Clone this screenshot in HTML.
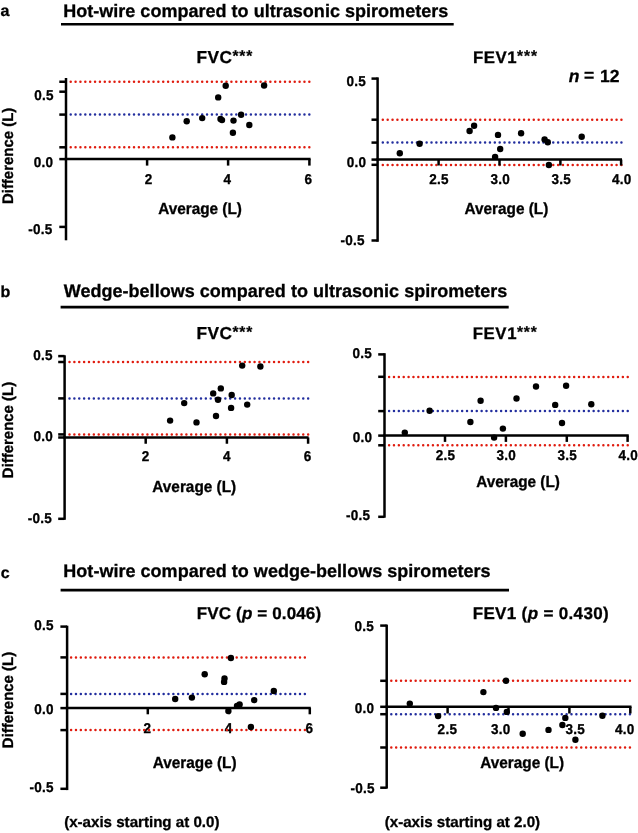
<!DOCTYPE html>
<html><head><meta charset="utf-8"><style>
html,body{margin:0;padding:0;background:#fff;}
svg{display:block;will-change:transform;}
text{font-family:"Liberation Sans", sans-serif;font-weight:bold;fill:#000;text-rendering:geometricPrecision;stroke:#000;stroke-width:0.3px;}
</style></head><body>
<svg width="638" height="833" viewBox="0 0 638 833">
<rect width="638" height="833" fill="#fff"/>
<text x="0.46" y="15.80" font-size="16" >a</text>
<text x="63.14" y="16.60" font-size="18"  letter-spacing="0.025">Hot-wire compared to ultrasonic spirometers</text>
<line x1="61" y1="24.3" x2="453.7" y2="24.3" stroke="#000" stroke-width="2.6" stroke-linecap="butt"/>
<text x="0.38" y="297.20" font-size="16" >b</text>
<text x="63.80" y="296.70" font-size="18"  letter-spacing="0.017">Wedge-bellows compared to ultrasonic spirometers</text>
<line x1="60.6" y1="307.2" x2="508.7" y2="307.2" stroke="#000" stroke-width="2.7" stroke-linecap="butt"/>
<text x="0.86" y="577.60" font-size="16" >c</text>
<text x="63.34" y="577.40" font-size="18"  letter-spacing="0.025">Hot-wire compared to wedge-bellows spirometers</text>
<line x1="60.6" y1="590.1" x2="509" y2="590.1" stroke="#000" stroke-width="2.6" stroke-linecap="butt"/>
<path d="M70.70 81.75h0M75.57 81.75h0M80.44 81.75h0M85.31 81.75h0M90.18 81.75h0M95.05 81.75h0M99.92 81.75h0M104.79 81.75h0M109.66 81.75h0M114.53 81.75h0M119.40 81.75h0M124.27 81.75h0M129.14 81.75h0M134.01 81.75h0M138.88 81.75h0M143.75 81.75h0M148.62 81.75h0M153.49 81.75h0M158.36 81.75h0M163.23 81.75h0M168.10 81.75h0M172.97 81.75h0M177.84 81.75h0M182.71 81.75h0M187.58 81.75h0M192.45 81.75h0M197.32 81.75h0M202.19 81.75h0M207.06 81.75h0M211.93 81.75h0M216.80 81.75h0M221.67 81.75h0M226.54 81.75h0M231.41 81.75h0M236.28 81.75h0M241.15 81.75h0M246.02 81.75h0M250.89 81.75h0M255.76 81.75h0M260.63 81.75h0M265.50 81.75h0M270.37 81.75h0M275.24 81.75h0M280.11 81.75h0M284.98 81.75h0M289.85 81.75h0M294.72 81.75h0M299.59 81.75h0M304.46 81.75h0M309.33 81.75h0" stroke="#e01b0e" stroke-width="2.5" stroke-linecap="round" fill="none"/>
<path d="M70.70 114.6h0M75.57 114.6h0M80.44 114.6h0M85.31 114.6h0M90.18 114.6h0M95.05 114.6h0M99.92 114.6h0M104.79 114.6h0M109.66 114.6h0M114.53 114.6h0M119.40 114.6h0M124.27 114.6h0M129.14 114.6h0M134.01 114.6h0M138.88 114.6h0M143.75 114.6h0M148.62 114.6h0M153.49 114.6h0M158.36 114.6h0M163.23 114.6h0M168.10 114.6h0M172.97 114.6h0M177.84 114.6h0M182.71 114.6h0M187.58 114.6h0M192.45 114.6h0M197.32 114.6h0M202.19 114.6h0M207.06 114.6h0M211.93 114.6h0M216.80 114.6h0M221.67 114.6h0M226.54 114.6h0M231.41 114.6h0M236.28 114.6h0M241.15 114.6h0M246.02 114.6h0M250.89 114.6h0M255.76 114.6h0M260.63 114.6h0M265.50 114.6h0M270.37 114.6h0M275.24 114.6h0M280.11 114.6h0M284.98 114.6h0M289.85 114.6h0M294.72 114.6h0M299.59 114.6h0M304.46 114.6h0M309.33 114.6h0" stroke="#222e9e" stroke-width="2.5" stroke-linecap="round" fill="none"/>
<path d="M70.70 147.3h0M75.57 147.3h0M80.44 147.3h0M85.31 147.3h0M90.18 147.3h0M95.05 147.3h0M99.92 147.3h0M104.79 147.3h0M109.66 147.3h0M114.53 147.3h0M119.40 147.3h0M124.27 147.3h0M129.14 147.3h0M134.01 147.3h0M138.88 147.3h0M143.75 147.3h0M148.62 147.3h0M153.49 147.3h0M158.36 147.3h0M163.23 147.3h0M168.10 147.3h0M172.97 147.3h0M177.84 147.3h0M182.71 147.3h0M187.58 147.3h0M192.45 147.3h0M197.32 147.3h0M202.19 147.3h0M207.06 147.3h0M211.93 147.3h0M216.80 147.3h0M221.67 147.3h0M226.54 147.3h0M231.41 147.3h0M236.28 147.3h0M241.15 147.3h0M246.02 147.3h0M250.89 147.3h0M255.76 147.3h0M260.63 147.3h0M265.50 147.3h0M270.37 147.3h0M275.24 147.3h0M280.11 147.3h0M284.98 147.3h0M289.85 147.3h0M294.72 147.3h0M299.59 147.3h0M304.46 147.3h0M309.33 147.3h0" stroke="#e01b0e" stroke-width="2.5" stroke-linecap="round" fill="none"/>
<line x1="66" y1="78" x2="66" y2="240.3" stroke="#000" stroke-width="2.5" stroke-linecap="butt"/>
<line x1="64.75" y1="159.1" x2="310.6" y2="159.1" stroke="#000" stroke-width="2.5" stroke-linecap="butt"/>
<line x1="59.3" y1="81.75" x2="66" y2="81.75" stroke="#000" stroke-width="2.5" stroke-linecap="butt"/>
<line x1="59.3" y1="91.7" x2="66" y2="91.7" stroke="#000" stroke-width="2.5" stroke-linecap="butt"/>
<line x1="59.3" y1="114.6" x2="66" y2="114.6" stroke="#000" stroke-width="2.5" stroke-linecap="butt"/>
<line x1="59.3" y1="147.3" x2="66" y2="147.3" stroke="#000" stroke-width="2.5" stroke-linecap="butt"/>
<line x1="59.3" y1="159.1" x2="66" y2="159.1" stroke="#000" stroke-width="2.5" stroke-linecap="butt"/>
<line x1="59.3" y1="226.9" x2="66" y2="226.9" stroke="#000" stroke-width="2.5" stroke-linecap="butt"/>
<line x1="147.1" y1="159.1" x2="147.1" y2="165.6" stroke="#000" stroke-width="2.5" stroke-linecap="butt"/>
<line x1="228.1" y1="159.1" x2="228.1" y2="165.6" stroke="#000" stroke-width="2.5" stroke-linecap="butt"/>
<line x1="309.4" y1="159.1" x2="309.4" y2="165.6" stroke="#000" stroke-width="2.5" stroke-linecap="butt"/>
<circle cx="172.40" cy="137.40" r="3.2"/>
<circle cx="186.70" cy="121.30" r="3.2"/>
<circle cx="202.20" cy="118.10" r="3.2"/>
<circle cx="218.20" cy="97.40" r="3.2"/>
<circle cx="225.70" cy="85.70" r="3.2"/>
<circle cx="220.50" cy="119.00" r="3.2"/>
<circle cx="222.00" cy="120.10" r="3.2"/>
<circle cx="233.50" cy="120.60" r="3.2"/>
<circle cx="232.90" cy="132.70" r="3.2"/>
<circle cx="241.10" cy="114.70" r="3.2"/>
<circle cx="249.30" cy="125.00" r="3.2"/>
<circle cx="264.10" cy="85.50" r="3.2"/>
<text transform="translate(144.79,183.60) scale(1,1.05)" font-size="13.5" >2</text>
<text transform="translate(223.45,183.60) scale(1,1.05)" font-size="13.5" >4</text>
<text transform="translate(304.62,183.60) scale(1,1.05)" font-size="13.5" >6</text>
<text transform="translate(34.16,100.00) scale(1,1.05)" font-size="13.5"  letter-spacing="0.250">0.5</text>
<text transform="translate(33.86,166.90) scale(1,1.05)" font-size="13.5"  letter-spacing="0.250">0.0</text>
<text transform="translate(28.21,233.75) scale(1,1.05)" font-size="13.5"  letter-spacing="0.250">-0.5</text>
<path d="M382.80 119.7h0M387.67 119.7h0M392.54 119.7h0M397.41 119.7h0M402.28 119.7h0M407.15 119.7h0M412.02 119.7h0M416.89 119.7h0M421.76 119.7h0M426.63 119.7h0M431.50 119.7h0M436.37 119.7h0M441.24 119.7h0M446.11 119.7h0M450.98 119.7h0M455.85 119.7h0M460.72 119.7h0M465.59 119.7h0M470.46 119.7h0M475.33 119.7h0M480.20 119.7h0M485.07 119.7h0M489.94 119.7h0M494.81 119.7h0M499.68 119.7h0M504.55 119.7h0M509.42 119.7h0M514.29 119.7h0M519.16 119.7h0M524.03 119.7h0M528.90 119.7h0M533.77 119.7h0M538.64 119.7h0M543.51 119.7h0M548.38 119.7h0M553.25 119.7h0M558.12 119.7h0M562.99 119.7h0M567.86 119.7h0M572.73 119.7h0M577.60 119.7h0M582.47 119.7h0M587.34 119.7h0M592.21 119.7h0M597.08 119.7h0M601.95 119.7h0M606.82 119.7h0M611.69 119.7h0M616.56 119.7h0M621.43 119.7h0" stroke="#e01b0e" stroke-width="2.5" stroke-linecap="round" fill="none"/>
<path d="M382.80 142.6h0M387.67 142.6h0M392.54 142.6h0M397.41 142.6h0M402.28 142.6h0M407.15 142.6h0M412.02 142.6h0M416.89 142.6h0M421.76 142.6h0M426.63 142.6h0M431.50 142.6h0M436.37 142.6h0M441.24 142.6h0M446.11 142.6h0M450.98 142.6h0M455.85 142.6h0M460.72 142.6h0M465.59 142.6h0M470.46 142.6h0M475.33 142.6h0M480.20 142.6h0M485.07 142.6h0M489.94 142.6h0M494.81 142.6h0M499.68 142.6h0M504.55 142.6h0M509.42 142.6h0M514.29 142.6h0M519.16 142.6h0M524.03 142.6h0M528.90 142.6h0M533.77 142.6h0M538.64 142.6h0M543.51 142.6h0M548.38 142.6h0M553.25 142.6h0M558.12 142.6h0M562.99 142.6h0M567.86 142.6h0M572.73 142.6h0M577.60 142.6h0M582.47 142.6h0M587.34 142.6h0M592.21 142.6h0M597.08 142.6h0M601.95 142.6h0M606.82 142.6h0M611.69 142.6h0M616.56 142.6h0M621.43 142.6h0" stroke="#222e9e" stroke-width="2.5" stroke-linecap="round" fill="none"/>
<path d="M382.80 164.9h0M387.67 164.9h0M392.54 164.9h0M397.41 164.9h0M402.28 164.9h0M407.15 164.9h0M412.02 164.9h0M416.89 164.9h0M421.76 164.9h0M426.63 164.9h0M431.50 164.9h0M436.37 164.9h0M441.24 164.9h0M446.11 164.9h0M450.98 164.9h0M455.85 164.9h0M460.72 164.9h0M465.59 164.9h0M470.46 164.9h0M475.33 164.9h0M480.20 164.9h0M485.07 164.9h0M489.94 164.9h0M494.81 164.9h0M499.68 164.9h0M504.55 164.9h0M509.42 164.9h0M514.29 164.9h0M519.16 164.9h0M524.03 164.9h0M528.90 164.9h0M533.77 164.9h0M538.64 164.9h0M543.51 164.9h0M548.38 164.9h0M553.25 164.9h0M558.12 164.9h0M562.99 164.9h0M567.86 164.9h0M572.73 164.9h0M577.60 164.9h0M582.47 164.9h0M587.34 164.9h0M592.21 164.9h0M597.08 164.9h0M601.95 164.9h0M606.82 164.9h0M611.69 164.9h0M616.56 164.9h0M621.43 164.9h0" stroke="#e01b0e" stroke-width="2.5" stroke-linecap="round" fill="none"/>
<line x1="377.6" y1="77.4" x2="377.6" y2="241.8" stroke="#000" stroke-width="2.5" stroke-linecap="butt"/>
<line x1="376.35" y1="159.6" x2="622" y2="159.6" stroke="#000" stroke-width="2.5" stroke-linecap="butt"/>
<line x1="371.5" y1="78.6" x2="377.6" y2="78.6" stroke="#000" stroke-width="2.5" stroke-linecap="butt"/>
<line x1="371.5" y1="119.7" x2="377.6" y2="119.7" stroke="#000" stroke-width="2.5" stroke-linecap="butt"/>
<line x1="371.5" y1="142.6" x2="377.6" y2="142.6" stroke="#000" stroke-width="2.5" stroke-linecap="butt"/>
<line x1="371.5" y1="159.6" x2="377.6" y2="159.6" stroke="#000" stroke-width="2.5" stroke-linecap="butt"/>
<line x1="371.5" y1="164.8" x2="377.6" y2="164.8" stroke="#000" stroke-width="2.5" stroke-linecap="butt"/>
<line x1="371.5" y1="240.5" x2="377.6" y2="240.5" stroke="#000" stroke-width="2.5" stroke-linecap="butt"/>
<line x1="438.6" y1="159.6" x2="438.6" y2="165.5" stroke="#000" stroke-width="2.5" stroke-linecap="butt"/>
<line x1="499.5" y1="159.6" x2="499.5" y2="165.5" stroke="#000" stroke-width="2.5" stroke-linecap="butt"/>
<line x1="560.4" y1="159.6" x2="560.4" y2="165.5" stroke="#000" stroke-width="2.5" stroke-linecap="butt"/>
<line x1="621.1" y1="159.6" x2="621.1" y2="165.5" stroke="#000" stroke-width="2.5" stroke-linecap="butt"/>
<circle cx="399.80" cy="153.20" r="3.2"/>
<circle cx="419.60" cy="143.70" r="3.2"/>
<circle cx="469.60" cy="131.00" r="3.2"/>
<circle cx="474.10" cy="125.70" r="3.2"/>
<circle cx="498.00" cy="134.90" r="3.2"/>
<circle cx="500.20" cy="149.00" r="3.2"/>
<circle cx="495.10" cy="156.90" r="3.2"/>
<circle cx="521.10" cy="133.20" r="3.2"/>
<circle cx="544.60" cy="139.50" r="3.2"/>
<circle cx="547.80" cy="142.30" r="3.2"/>
<circle cx="548.90" cy="165.00" r="3.2"/>
<circle cx="581.70" cy="136.80" r="3.2"/>
<text transform="translate(429.27,183.50) scale(1,1.05)" font-size="13.5"  letter-spacing="0.250">2.5</text>
<text transform="translate(490.50,183.50) scale(1,1.05)" font-size="13.5"  letter-spacing="0.250">3.0</text>
<text transform="translate(551.43,183.50) scale(1,1.05)" font-size="13.5"  letter-spacing="0.250">3.5</text>
<text transform="translate(611.90,183.50) scale(1,1.05)" font-size="13.5"  letter-spacing="0.250">4.0</text>
<text transform="translate(346.46,85.90) scale(1,1.05)" font-size="13.5"  letter-spacing="0.250">0.5</text>
<text transform="translate(346.76,166.60) scale(1,1.05)" font-size="13.5"  letter-spacing="0.250">0.0</text>
<text transform="translate(340.56,245.00) scale(1,1.05)" font-size="13.5"  letter-spacing="0.250">-0.5</text>
<path d="M69.50 362.1h0M74.37 362.1h0M79.24 362.1h0M84.11 362.1h0M88.98 362.1h0M93.85 362.1h0M98.72 362.1h0M103.59 362.1h0M108.46 362.1h0M113.33 362.1h0M118.20 362.1h0M123.07 362.1h0M127.94 362.1h0M132.81 362.1h0M137.68 362.1h0M142.55 362.1h0M147.42 362.1h0M152.29 362.1h0M157.16 362.1h0M162.03 362.1h0M166.90 362.1h0M171.77 362.1h0M176.64 362.1h0M181.51 362.1h0M186.38 362.1h0M191.25 362.1h0M196.12 362.1h0M200.99 362.1h0M205.86 362.1h0M210.73 362.1h0M215.60 362.1h0M220.47 362.1h0M225.34 362.1h0M230.21 362.1h0M235.08 362.1h0M239.95 362.1h0M244.82 362.1h0M249.69 362.1h0M254.56 362.1h0M259.43 362.1h0M264.30 362.1h0M269.17 362.1h0M274.04 362.1h0M278.91 362.1h0M283.78 362.1h0M288.65 362.1h0M293.52 362.1h0M298.39 362.1h0M303.26 362.1h0M308.13 362.1h0" stroke="#e01b0e" stroke-width="2.5" stroke-linecap="round" fill="none"/>
<path d="M69.50 398.5h0M74.37 398.5h0M79.24 398.5h0M84.11 398.5h0M88.98 398.5h0M93.85 398.5h0M98.72 398.5h0M103.59 398.5h0M108.46 398.5h0M113.33 398.5h0M118.20 398.5h0M123.07 398.5h0M127.94 398.5h0M132.81 398.5h0M137.68 398.5h0M142.55 398.5h0M147.42 398.5h0M152.29 398.5h0M157.16 398.5h0M162.03 398.5h0M166.90 398.5h0M171.77 398.5h0M176.64 398.5h0M181.51 398.5h0M186.38 398.5h0M191.25 398.5h0M196.12 398.5h0M200.99 398.5h0M205.86 398.5h0M210.73 398.5h0M215.60 398.5h0M220.47 398.5h0M225.34 398.5h0M230.21 398.5h0M235.08 398.5h0M239.95 398.5h0M244.82 398.5h0M249.69 398.5h0M254.56 398.5h0M259.43 398.5h0M264.30 398.5h0M269.17 398.5h0M274.04 398.5h0M278.91 398.5h0M283.78 398.5h0M288.65 398.5h0M293.52 398.5h0M298.39 398.5h0M303.26 398.5h0M308.13 398.5h0" stroke="#222e9e" stroke-width="2.5" stroke-linecap="round" fill="none"/>
<path d="M69.50 434.6h0M74.37 434.6h0M79.24 434.6h0M84.11 434.6h0M88.98 434.6h0M93.85 434.6h0M98.72 434.6h0M103.59 434.6h0M108.46 434.6h0M113.33 434.6h0M118.20 434.6h0M123.07 434.6h0M127.94 434.6h0M132.81 434.6h0M137.68 434.6h0M142.55 434.6h0M147.42 434.6h0M152.29 434.6h0M157.16 434.6h0M162.03 434.6h0M166.90 434.6h0M171.77 434.6h0M176.64 434.6h0M181.51 434.6h0M186.38 434.6h0M191.25 434.6h0M196.12 434.6h0M200.99 434.6h0M205.86 434.6h0M210.73 434.6h0M215.60 434.6h0M220.47 434.6h0M225.34 434.6h0M230.21 434.6h0M235.08 434.6h0M239.95 434.6h0M244.82 434.6h0M249.69 434.6h0M254.56 434.6h0M259.43 434.6h0M264.30 434.6h0M269.17 434.6h0M274.04 434.6h0M278.91 434.6h0M283.78 434.6h0M288.65 434.6h0M293.52 434.6h0M298.39 434.6h0M303.26 434.6h0M308.13 434.6h0" stroke="#e01b0e" stroke-width="2.5" stroke-linecap="round" fill="none"/>
<line x1="64.6" y1="355.3" x2="64.6" y2="519.8" stroke="#000" stroke-width="2.5" stroke-linecap="butt"/>
<line x1="63.349999999999994" y1="437.5" x2="308.6" y2="437.5" stroke="#000" stroke-width="2.5" stroke-linecap="butt"/>
<line x1="58.2" y1="356.1" x2="64.6" y2="356.1" stroke="#000" stroke-width="2.5" stroke-linecap="butt"/>
<line x1="58.2" y1="362.0" x2="64.6" y2="362.0" stroke="#000" stroke-width="2.5" stroke-linecap="butt"/>
<line x1="58.2" y1="398.4" x2="64.6" y2="398.4" stroke="#000" stroke-width="2.5" stroke-linecap="butt"/>
<line x1="58.2" y1="434.4" x2="64.6" y2="434.4" stroke="#000" stroke-width="2.5" stroke-linecap="butt"/>
<line x1="58.2" y1="437.5" x2="64.6" y2="437.5" stroke="#000" stroke-width="2.5" stroke-linecap="butt"/>
<line x1="58.2" y1="518.8" x2="64.6" y2="518.8" stroke="#000" stroke-width="2.5" stroke-linecap="butt"/>
<line x1="145.7" y1="437.5" x2="145.7" y2="443.75" stroke="#000" stroke-width="2.5" stroke-linecap="butt"/>
<line x1="226.9" y1="437.5" x2="226.9" y2="443.75" stroke="#000" stroke-width="2.5" stroke-linecap="butt"/>
<line x1="308.1" y1="437.5" x2="308.1" y2="443.75" stroke="#000" stroke-width="2.5" stroke-linecap="butt"/>
<circle cx="170.10" cy="420.60" r="3.2"/>
<circle cx="184.20" cy="403.10" r="3.2"/>
<circle cx="196.50" cy="422.40" r="3.2"/>
<circle cx="213.20" cy="393.40" r="3.2"/>
<circle cx="220.80" cy="388.40" r="3.2"/>
<circle cx="218.00" cy="399.80" r="3.2"/>
<circle cx="216.00" cy="416.00" r="3.2"/>
<circle cx="231.70" cy="395.00" r="3.2"/>
<circle cx="231.10" cy="407.90" r="3.2"/>
<circle cx="242.20" cy="365.60" r="3.2"/>
<circle cx="247.20" cy="404.60" r="3.2"/>
<circle cx="260.40" cy="366.50" r="3.2"/>
<text transform="translate(141.84,460.50) scale(1,1.05)" font-size="13.5" >2</text>
<text transform="translate(223.05,460.50) scale(1,1.05)" font-size="13.5" >4</text>
<text transform="translate(303.82,460.50) scale(1,1.05)" font-size="13.5" >6</text>
<text transform="translate(33.26,359.80) scale(1,1.05)" font-size="13.5"  letter-spacing="0.250">0.5</text>
<text transform="translate(33.46,441.00) scale(1,1.05)" font-size="13.5"  letter-spacing="0.250">0.0</text>
<text transform="translate(27.66,522.90) scale(1,1.05)" font-size="13.5"  letter-spacing="0.250">-0.5</text>
<path d="M389.10 377.0h0M393.97 377.0h0M398.84 377.0h0M403.71 377.0h0M408.58 377.0h0M413.45 377.0h0M418.32 377.0h0M423.19 377.0h0M428.06 377.0h0M432.93 377.0h0M437.80 377.0h0M442.67 377.0h0M447.54 377.0h0M452.41 377.0h0M457.28 377.0h0M462.15 377.0h0M467.02 377.0h0M471.89 377.0h0M476.76 377.0h0M481.63 377.0h0M486.50 377.0h0M491.37 377.0h0M496.24 377.0h0M501.11 377.0h0M505.98 377.0h0M510.85 377.0h0M515.72 377.0h0M520.59 377.0h0M525.46 377.0h0M530.33 377.0h0M535.20 377.0h0M540.07 377.0h0M544.94 377.0h0M549.81 377.0h0M554.68 377.0h0M559.55 377.0h0M564.42 377.0h0M569.29 377.0h0M574.16 377.0h0M579.03 377.0h0M583.90 377.0h0M588.77 377.0h0M593.64 377.0h0M598.51 377.0h0M603.38 377.0h0M608.25 377.0h0M613.12 377.0h0M617.99 377.0h0M622.86 377.0h0M627.73 377.0h0" stroke="#e01b0e" stroke-width="2.5" stroke-linecap="round" fill="none"/>
<path d="M389.10 411.1h0M393.97 411.1h0M398.84 411.1h0M403.71 411.1h0M408.58 411.1h0M413.45 411.1h0M418.32 411.1h0M423.19 411.1h0M428.06 411.1h0M432.93 411.1h0M437.80 411.1h0M442.67 411.1h0M447.54 411.1h0M452.41 411.1h0M457.28 411.1h0M462.15 411.1h0M467.02 411.1h0M471.89 411.1h0M476.76 411.1h0M481.63 411.1h0M486.50 411.1h0M491.37 411.1h0M496.24 411.1h0M501.11 411.1h0M505.98 411.1h0M510.85 411.1h0M515.72 411.1h0M520.59 411.1h0M525.46 411.1h0M530.33 411.1h0M535.20 411.1h0M540.07 411.1h0M544.94 411.1h0M549.81 411.1h0M554.68 411.1h0M559.55 411.1h0M564.42 411.1h0M569.29 411.1h0M574.16 411.1h0M579.03 411.1h0M583.90 411.1h0M588.77 411.1h0M593.64 411.1h0M598.51 411.1h0M603.38 411.1h0M608.25 411.1h0M613.12 411.1h0M617.99 411.1h0M622.86 411.1h0M627.73 411.1h0" stroke="#222e9e" stroke-width="2.5" stroke-linecap="round" fill="none"/>
<path d="M389.10 445.3h0M393.97 445.3h0M398.84 445.3h0M403.71 445.3h0M408.58 445.3h0M413.45 445.3h0M418.32 445.3h0M423.19 445.3h0M428.06 445.3h0M432.93 445.3h0M437.80 445.3h0M442.67 445.3h0M447.54 445.3h0M452.41 445.3h0M457.28 445.3h0M462.15 445.3h0M467.02 445.3h0M471.89 445.3h0M476.76 445.3h0M481.63 445.3h0M486.50 445.3h0M491.37 445.3h0M496.24 445.3h0M501.11 445.3h0M505.98 445.3h0M510.85 445.3h0M515.72 445.3h0M520.59 445.3h0M525.46 445.3h0M530.33 445.3h0M535.20 445.3h0M540.07 445.3h0M544.94 445.3h0M549.81 445.3h0M554.68 445.3h0M559.55 445.3h0M564.42 445.3h0M569.29 445.3h0M574.16 445.3h0M579.03 445.3h0M583.90 445.3h0M588.77 445.3h0M593.64 445.3h0M598.51 445.3h0M603.38 445.3h0M608.25 445.3h0M613.12 445.3h0M617.99 445.3h0M622.86 445.3h0M627.73 445.3h0" stroke="#e01b0e" stroke-width="2.5" stroke-linecap="round" fill="none"/>
<line x1="384.5" y1="353.2" x2="384.5" y2="517.7" stroke="#000" stroke-width="2.5" stroke-linecap="butt"/>
<line x1="383.25" y1="435.6" x2="628.75" y2="435.6" stroke="#000" stroke-width="2.5" stroke-linecap="butt"/>
<line x1="378.2" y1="354.4" x2="384.5" y2="354.4" stroke="#000" stroke-width="2.5" stroke-linecap="butt"/>
<line x1="378.2" y1="376.8" x2="384.5" y2="376.8" stroke="#000" stroke-width="2.5" stroke-linecap="butt"/>
<line x1="378.2" y1="411.1" x2="384.5" y2="411.1" stroke="#000" stroke-width="2.5" stroke-linecap="butt"/>
<line x1="378.2" y1="435.6" x2="384.5" y2="435.6" stroke="#000" stroke-width="2.5" stroke-linecap="butt"/>
<line x1="378.2" y1="445.3" x2="384.5" y2="445.3" stroke="#000" stroke-width="2.5" stroke-linecap="butt"/>
<line x1="378.2" y1="516.8" x2="384.5" y2="516.8" stroke="#000" stroke-width="2.5" stroke-linecap="butt"/>
<line x1="445.0" y1="435.6" x2="445.0" y2="441.9" stroke="#000" stroke-width="2.5" stroke-linecap="butt"/>
<line x1="505.9" y1="435.6" x2="505.9" y2="441.9" stroke="#000" stroke-width="2.5" stroke-linecap="butt"/>
<line x1="566.8" y1="435.6" x2="566.8" y2="441.9" stroke="#000" stroke-width="2.5" stroke-linecap="butt"/>
<line x1="627.6" y1="435.6" x2="627.6" y2="441.9" stroke="#000" stroke-width="2.5" stroke-linecap="butt"/>
<circle cx="404.80" cy="432.60" r="3.2"/>
<circle cx="429.60" cy="410.70" r="3.2"/>
<circle cx="470.40" cy="422.00" r="3.2"/>
<circle cx="480.60" cy="400.80" r="3.2"/>
<circle cx="494.10" cy="437.60" r="3.2"/>
<circle cx="502.90" cy="428.60" r="3.2"/>
<circle cx="516.50" cy="398.50" r="3.2"/>
<circle cx="536.00" cy="386.50" r="3.2"/>
<circle cx="555.20" cy="404.90" r="3.2"/>
<circle cx="566.10" cy="385.70" r="3.2"/>
<circle cx="562.00" cy="423.00" r="3.2"/>
<circle cx="591.30" cy="404.30" r="3.2"/>
<text transform="translate(435.67,459.60) scale(1,1.05)" font-size="13.5"  letter-spacing="0.250">2.5</text>
<text transform="translate(496.50,459.60) scale(1,1.05)" font-size="13.5"  letter-spacing="0.250">3.0</text>
<text transform="translate(557.43,459.60) scale(1,1.05)" font-size="13.5"  letter-spacing="0.250">3.5</text>
<text transform="translate(618.50,459.60) scale(1,1.05)" font-size="13.5"  letter-spacing="0.250">4.0</text>
<text transform="translate(352.46,358.00) scale(1,1.05)" font-size="13.5"  letter-spacing="0.250">0.5</text>
<text transform="translate(352.66,441.60) scale(1,1.05)" font-size="13.5"  letter-spacing="0.250">0.0</text>
<text transform="translate(346.06,519.80) scale(1,1.05)" font-size="13.5"  letter-spacing="0.250">-0.5</text>
<text transform="translate(143.54,732.50) scale(1,1.05)" font-size="13.5" >2</text>
<text transform="translate(224.65,732.70) scale(1,1.05)" font-size="13.5" >4</text>
<text transform="translate(305.42,732.50) scale(1,1.05)" font-size="13.5" >6</text>
<text transform="translate(34.26,630.30) scale(1,1.05)" font-size="13.5"  letter-spacing="0.250">0.5</text>
<text transform="translate(34.36,713.80) scale(1,1.05)" font-size="13.5"  letter-spacing="0.250">0.0</text>
<text transform="translate(29.46,792.40) scale(1,1.05)" font-size="13.5"  letter-spacing="0.250">-0.5</text>
<path d="M71.10 657.5h0M75.97 657.5h0M80.84 657.5h0M85.71 657.5h0M90.58 657.5h0M95.45 657.5h0M100.32 657.5h0M105.19 657.5h0M110.06 657.5h0M114.93 657.5h0M119.80 657.5h0M124.67 657.5h0M129.54 657.5h0M134.41 657.5h0M139.28 657.5h0M144.15 657.5h0M149.02 657.5h0M153.89 657.5h0M158.76 657.5h0M163.63 657.5h0M168.50 657.5h0M173.37 657.5h0M178.24 657.5h0M183.11 657.5h0M187.98 657.5h0M192.85 657.5h0M197.72 657.5h0M202.59 657.5h0M207.46 657.5h0M212.33 657.5h0M217.20 657.5h0M222.07 657.5h0M226.94 657.5h0M231.81 657.5h0M236.68 657.5h0M241.55 657.5h0M246.42 657.5h0M251.29 657.5h0M256.16 657.5h0M261.03 657.5h0M265.90 657.5h0M270.77 657.5h0M275.64 657.5h0M280.51 657.5h0M285.38 657.5h0M290.25 657.5h0M295.12 657.5h0M299.99 657.5h0M304.86 657.5h0" stroke="#e01b0e" stroke-width="2.5" stroke-linecap="round" fill="none"/>
<path d="M71.10 694.0h0M75.97 694.0h0M80.84 694.0h0M85.71 694.0h0M90.58 694.0h0M95.45 694.0h0M100.32 694.0h0M105.19 694.0h0M110.06 694.0h0M114.93 694.0h0M119.80 694.0h0M124.67 694.0h0M129.54 694.0h0M134.41 694.0h0M139.28 694.0h0M144.15 694.0h0M149.02 694.0h0M153.89 694.0h0M158.76 694.0h0M163.63 694.0h0M168.50 694.0h0M173.37 694.0h0M178.24 694.0h0M183.11 694.0h0M187.98 694.0h0M192.85 694.0h0M197.72 694.0h0M202.59 694.0h0M207.46 694.0h0M212.33 694.0h0M217.20 694.0h0M222.07 694.0h0M226.94 694.0h0M231.81 694.0h0M236.68 694.0h0M241.55 694.0h0M246.42 694.0h0M251.29 694.0h0M256.16 694.0h0M261.03 694.0h0M265.90 694.0h0M270.77 694.0h0M275.64 694.0h0M280.51 694.0h0M285.38 694.0h0M290.25 694.0h0M295.12 694.0h0M299.99 694.0h0M304.86 694.0h0" stroke="#222e9e" stroke-width="2.5" stroke-linecap="round" fill="none"/>
<path d="M71.10 730.1h0M75.97 730.1h0M80.84 730.1h0M85.71 730.1h0M90.58 730.1h0M95.45 730.1h0M100.32 730.1h0M105.19 730.1h0M110.06 730.1h0M114.93 730.1h0M119.80 730.1h0M124.67 730.1h0M129.54 730.1h0M134.41 730.1h0M139.28 730.1h0M144.15 730.1h0M149.02 730.1h0M153.89 730.1h0M158.76 730.1h0M163.63 730.1h0M168.50 730.1h0M173.37 730.1h0M178.24 730.1h0M183.11 730.1h0M187.98 730.1h0M192.85 730.1h0M197.72 730.1h0M202.59 730.1h0M207.46 730.1h0M212.33 730.1h0M217.20 730.1h0M222.07 730.1h0M226.94 730.1h0M231.81 730.1h0M236.68 730.1h0M241.55 730.1h0M246.42 730.1h0M251.29 730.1h0M256.16 730.1h0M261.03 730.1h0M265.90 730.1h0M270.77 730.1h0M275.64 730.1h0M280.51 730.1h0M285.38 730.1h0M290.25 730.1h0M295.12 730.1h0M299.99 730.1h0M304.86 730.1h0" stroke="#e01b0e" stroke-width="2.5" stroke-linecap="round" fill="none"/>
<line x1="67.1" y1="625.7" x2="67.1" y2="790.1" stroke="#000" stroke-width="2.5" stroke-linecap="butt"/>
<line x1="65.85" y1="708.0" x2="310.8" y2="708.0" stroke="#000" stroke-width="2.5" stroke-linecap="butt"/>
<line x1="60.4" y1="626.6" x2="67.1" y2="626.6" stroke="#000" stroke-width="2.5" stroke-linecap="butt"/>
<line x1="60.4" y1="657.4" x2="67.1" y2="657.4" stroke="#000" stroke-width="2.5" stroke-linecap="butt"/>
<line x1="60.4" y1="693.9" x2="67.1" y2="693.9" stroke="#000" stroke-width="2.5" stroke-linecap="butt"/>
<line x1="60.4" y1="708.1" x2="67.1" y2="708.1" stroke="#000" stroke-width="2.5" stroke-linecap="butt"/>
<line x1="60.4" y1="730.1" x2="67.1" y2="730.1" stroke="#000" stroke-width="2.5" stroke-linecap="butt"/>
<line x1="60.4" y1="788.8" x2="67.1" y2="788.8" stroke="#000" stroke-width="2.5" stroke-linecap="butt"/>
<line x1="147.8" y1="708.0" x2="147.8" y2="714.3" stroke="#000" stroke-width="2.5" stroke-linecap="butt"/>
<line x1="228.8" y1="708.0" x2="228.8" y2="714.3" stroke="#000" stroke-width="2.5" stroke-linecap="butt"/>
<line x1="309.8" y1="708.0" x2="309.8" y2="714.3" stroke="#000" stroke-width="2.5" stroke-linecap="butt"/>
<circle cx="175.20" cy="699.00" r="3.2"/>
<circle cx="191.90" cy="697.60" r="3.2"/>
<circle cx="204.70" cy="674.30" r="3.2"/>
<circle cx="224.50" cy="678.40" r="3.2"/>
<circle cx="224.10" cy="681.90" r="3.2"/>
<circle cx="230.90" cy="658.00" r="3.2"/>
<circle cx="228.40" cy="710.90" r="3.2"/>
<circle cx="237.00" cy="705.90" r="3.2"/>
<circle cx="239.60" cy="704.40" r="3.2"/>
<circle cx="254.20" cy="700.10" r="3.2"/>
<circle cx="273.80" cy="691.00" r="3.2"/>
<circle cx="250.90" cy="727.00" r="3.2"/>
<text transform="translate(437.62,733.60) scale(1,1.05)" font-size="13.5"  letter-spacing="0.250">2.5</text>
<text transform="translate(491.00,733.60) scale(1,1.05)" font-size="13.5"  letter-spacing="0.250">3.0</text>
<text transform="translate(565.43,733.60) scale(1,1.05)" font-size="13.5"  letter-spacing="0.250">3.5</text>
<text transform="translate(615.00,733.60) scale(1,1.05)" font-size="13.5"  letter-spacing="0.250">4.0</text>
<text transform="translate(354.46,631.20) scale(1,1.05)" font-size="13.5"  letter-spacing="0.250">0.5</text>
<text transform="translate(354.86,712.80) scale(1,1.05)" font-size="13.5"  letter-spacing="0.250">0.0</text>
<text transform="translate(350.46,793.40) scale(1,1.05)" font-size="13.5"  letter-spacing="0.250">-0.5</text>
<path d="M391.30 680.8h0M396.17 680.8h0M401.04 680.8h0M405.91 680.8h0M410.78 680.8h0M415.65 680.8h0M420.52 680.8h0M425.39 680.8h0M430.26 680.8h0M435.13 680.8h0M440.00 680.8h0M444.87 680.8h0M449.74 680.8h0M454.61 680.8h0M459.48 680.8h0M464.35 680.8h0M469.22 680.8h0M474.09 680.8h0M478.96 680.8h0M483.83 680.8h0M488.70 680.8h0M493.57 680.8h0M498.44 680.8h0M503.31 680.8h0M508.18 680.8h0M513.05 680.8h0M517.92 680.8h0M522.79 680.8h0M527.66 680.8h0M532.53 680.8h0M537.40 680.8h0M542.27 680.8h0M547.14 680.8h0M552.01 680.8h0M556.88 680.8h0M561.75 680.8h0M566.62 680.8h0M571.49 680.8h0M576.36 680.8h0M581.23 680.8h0M586.10 680.8h0M590.97 680.8h0M595.84 680.8h0M600.71 680.8h0M605.58 680.8h0M610.45 680.8h0M615.32 680.8h0M620.19 680.8h0M625.06 680.8h0M629.93 680.8h0" stroke="#e01b0e" stroke-width="2.5" stroke-linecap="round" fill="none"/>
<path d="M391.30 714.3h0M396.17 714.3h0M401.04 714.3h0M405.91 714.3h0M410.78 714.3h0M415.65 714.3h0M420.52 714.3h0M425.39 714.3h0M430.26 714.3h0M435.13 714.3h0M440.00 714.3h0M444.87 714.3h0M449.74 714.3h0M454.61 714.3h0M459.48 714.3h0M464.35 714.3h0M469.22 714.3h0M474.09 714.3h0M478.96 714.3h0M483.83 714.3h0M488.70 714.3h0M493.57 714.3h0M498.44 714.3h0M503.31 714.3h0M508.18 714.3h0M513.05 714.3h0M517.92 714.3h0M522.79 714.3h0M527.66 714.3h0M532.53 714.3h0M537.40 714.3h0M542.27 714.3h0M547.14 714.3h0M552.01 714.3h0M556.88 714.3h0M561.75 714.3h0M566.62 714.3h0M571.49 714.3h0M576.36 714.3h0M581.23 714.3h0M586.10 714.3h0M590.97 714.3h0M595.84 714.3h0M600.71 714.3h0M605.58 714.3h0M610.45 714.3h0M615.32 714.3h0M620.19 714.3h0M625.06 714.3h0M629.93 714.3h0" stroke="#222e9e" stroke-width="2.5" stroke-linecap="round" fill="none"/>
<path d="M391.30 747.5h0M396.17 747.5h0M401.04 747.5h0M405.91 747.5h0M410.78 747.5h0M415.65 747.5h0M420.52 747.5h0M425.39 747.5h0M430.26 747.5h0M435.13 747.5h0M440.00 747.5h0M444.87 747.5h0M449.74 747.5h0M454.61 747.5h0M459.48 747.5h0M464.35 747.5h0M469.22 747.5h0M474.09 747.5h0M478.96 747.5h0M483.83 747.5h0M488.70 747.5h0M493.57 747.5h0M498.44 747.5h0M503.31 747.5h0M508.18 747.5h0M513.05 747.5h0M517.92 747.5h0M522.79 747.5h0M527.66 747.5h0M532.53 747.5h0M537.40 747.5h0M542.27 747.5h0M547.14 747.5h0M552.01 747.5h0M556.88 747.5h0M561.75 747.5h0M566.62 747.5h0M571.49 747.5h0M576.36 747.5h0M581.23 747.5h0M586.10 747.5h0M590.97 747.5h0M595.84 747.5h0M600.71 747.5h0M605.58 747.5h0M610.45 747.5h0M615.32 747.5h0M620.19 747.5h0M625.06 747.5h0M629.93 747.5h0" stroke="#e01b0e" stroke-width="2.5" stroke-linecap="round" fill="none"/>
<line x1="386.7" y1="624.6" x2="386.7" y2="788.6" stroke="#000" stroke-width="2.5" stroke-linecap="butt"/>
<line x1="385.45" y1="706.8" x2="631.5" y2="706.8" stroke="#000" stroke-width="2.5" stroke-linecap="butt"/>
<line x1="380.2" y1="625.6" x2="386.7" y2="625.6" stroke="#000" stroke-width="2.5" stroke-linecap="butt"/>
<line x1="380.2" y1="680.8" x2="386.7" y2="680.8" stroke="#000" stroke-width="2.5" stroke-linecap="butt"/>
<line x1="380.2" y1="706.8" x2="386.7" y2="706.8" stroke="#000" stroke-width="2.5" stroke-linecap="butt"/>
<line x1="380.2" y1="714.2" x2="386.7" y2="714.2" stroke="#000" stroke-width="2.5" stroke-linecap="butt"/>
<line x1="380.2" y1="747.5" x2="386.7" y2="747.5" stroke="#000" stroke-width="2.5" stroke-linecap="butt"/>
<line x1="380.2" y1="787.7" x2="386.7" y2="787.7" stroke="#000" stroke-width="2.5" stroke-linecap="butt"/>
<line x1="447.6" y1="706.8" x2="447.6" y2="713.5" stroke="#000" stroke-width="2.5" stroke-linecap="butt"/>
<line x1="508.5" y1="706.8" x2="508.5" y2="713.5" stroke="#000" stroke-width="2.5" stroke-linecap="butt"/>
<line x1="569.4" y1="706.8" x2="569.4" y2="713.5" stroke="#000" stroke-width="2.5" stroke-linecap="butt"/>
<line x1="630.3" y1="706.8" x2="630.3" y2="713.5" stroke="#000" stroke-width="2.5" stroke-linecap="butt"/>
<circle cx="409.80" cy="703.60" r="3.2"/>
<circle cx="438.10" cy="716.10" r="3.2"/>
<circle cx="483.40" cy="692.10" r="3.2"/>
<circle cx="496.00" cy="707.90" r="3.2"/>
<circle cx="506.00" cy="680.80" r="3.2"/>
<circle cx="506.80" cy="711.90" r="3.2"/>
<circle cx="522.70" cy="733.70" r="3.2"/>
<circle cx="548.50" cy="729.90" r="3.2"/>
<circle cx="562.40" cy="725.00" r="3.2"/>
<circle cx="565.30" cy="717.90" r="3.2"/>
<circle cx="575.40" cy="739.70" r="3.2"/>
<circle cx="602.40" cy="715.80" r="3.2"/>
<text x="196.59" y="62.60" font-size="17.3"  letter-spacing="0.450">FVC</text>
<text x="472.92" y="62.60" font-size="16.8"  letter-spacing="0.600">FEV1</text>
<text x="196.59" y="338.60" font-size="17.3"  letter-spacing="0.450">FVC</text>
<text x="472.72" y="338.60" font-size="16.8"  letter-spacing="0.600">FEV1</text>
<text x="232.40" y="60.90" font-size="15.5"  letter-spacing="0.900">***</text>
<text x="517.10" y="60.90" font-size="15.5"  letter-spacing="0.900">***</text>
<text x="232.40" y="336.60" font-size="15.5"  letter-spacing="0.900">***</text>
<text x="516.90" y="336.60" font-size="15.5"  letter-spacing="0.900">***</text>
<text x="196.81" y="619.10" font-size="17.0"  letter-spacing="0.139">FVC (<tspan font-style='italic'>p</tspan> = 0.046)</text>
<text x="472.71" y="619.20" font-size="17.0"  letter-spacing="0.336">FEV1 (<tspan font-style='italic'>p</tspan> = 0.430)</text>
<text x="568.65" y="81.60" font-size="17.5" font-style="italic">n</text>
<text x="583.90" y="80.80" font-size="17.5" >=</text>
<text x="599.95" y="81.60" font-size="17.5" >12</text>
<text transform="translate(158.14,213.50) scale(1,1.05)" font-size="15.34" >Average (L)</text>
<text transform="translate(464.54,213.90) scale(1,1.05)" font-size="15.34" >Average (L)</text>
<text transform="translate(152.34,491.60) scale(1,1.05)" font-size="15.34" >Average (L)</text>
<text transform="translate(476.14,487.30) scale(1,1.05)" font-size="15.34" >Average (L)</text>
<text transform="translate(152.74,767.90) scale(1,1.05)" font-size="15.34" >Average (L)</text>
<text transform="translate(480.24,767.60) scale(1,1.05)" font-size="15.34" >Average (L)</text>
<text transform="translate(13.26,204.05) rotate(-90) scale(1,1.02)" font-size="14.94">Difference (L)</text>
<text transform="translate(13.26,478.15) rotate(-90) scale(1,1.02)" font-size="14.94">Difference (L)</text>
<text transform="translate(13.26,748.15) rotate(-90) scale(1,1.02)" font-size="14.94">Difference (L)</text>
<text x="64.14" y="827.20" font-size="15.11" >(x-axis starting at 0.0)</text>
<text x="384.74" y="827.40" font-size="15.11" >(x-axis starting at 2.0)</text>
</svg>
</body></html>
